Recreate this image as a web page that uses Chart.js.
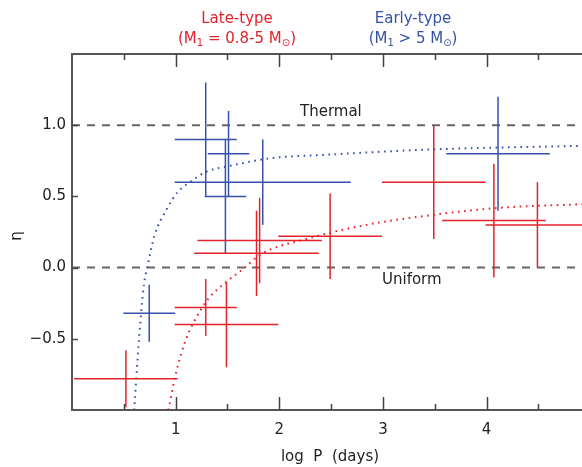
<!DOCTYPE html>
<html>
<head>
<meta charset="utf-8">
<script src="https://cdn.jsdelivr.net/npm/chart.js@4.4.1/dist/chart.umd.min.js"></script>
<style>
  html, body { margin: 0; padding: 0; background: #fff; }
  #wrap { width: 582px; height: 467px; }
</style>
</head>
<body>
<div id="wrap"><canvas id="chart" width="582" height="467"></canvas></div>
<script>
// --- data ---
// late-type (red): log P, eta, x error, eta error
const lateLogP = [0.52, 1.29, 1.49, 1.78, 1.81, 2.49, 3.49, 4.07, 4.49];
const lateEta  = [-0.78, -0.28, -0.40, 0.10, 0.19, 0.22, 0.60, 0.33, 0.30];
const lateXErr = [0.50, 0.30, 0.50, 0.60, 0.60, 0.50, 0.50, 0.50, 0.50];
const lateYErr = [0.20, 0.20, 0.30, 0.30, 0.30, 0.30, 0.40, 0.40, 0.30];

// early-type (blue)
const earlyLogP = [0.745, 1.29, 1.51, 1.48, 1.84, 4.11];
const earlyEta  = [-0.32, 0.90, 0.80, 0.50, 0.60, 0.80];
const earlyXErr = [0.25, 0.30, 0.20, 0.20, 0.85, 0.50];
const earlyYErr = [0.20, 0.40, 0.30, 0.40, 0.30, 0.40];

// dotted trend curves
const earlyCurveX = [0.60, 0.646, 0.694, 0.726, 0.794, 0.913, 1.019, 1.138, 1.299, 1.492, 1.941, 2.39, 3.48, 4.92];
const earlyCurveY = [-1.0, -0.505, -0.12, 0.0, 0.22, 0.41, 0.53, 0.60, 0.675, 0.71, 0.77, 0.79, 0.83, 0.855];
const lateCurveX = [0.93, 1.003, 1.099, 1.17, 1.314, 1.49, 1.668, 1.813, 2.28, 2.84, 3.48, 4.13, 4.92];
const lateCurveY = [-1.0, -0.74, -0.505, -0.39, -0.22, -0.10, 0.0, 0.09, 0.205, 0.30, 0.37, 0.42, 0.445];

// reference levels
const refLevels = [1.0, 0.0];
const refLabels = ['Thermal', 'Uniform'];

// axes
const xMin = 0, xMax = 4.92, yMin = -1.0, yMax = 1.5;
const xMajor = [1, 2, 3, 4];
const xMinor = [0.5, 1.5, 2.5, 3.5, 4.5];
const yMajor = [-0.5, 0.0, 0.5, 1.0];
const yLabels = ['\u22120.5', '0.0', '0.5', '1.0'];

const RED = '#e3222a';
const BLUE = '#3652a8';
const GREY = '#666666';
const FONT = '"DejaVu Sans", sans-serif';

function errorBarSets(xs, ys, xe, ye, color) {
    const sets = [];
    xs.forEach((x, i) => {
        const y = ys[i];
        sets.push({
            data: [{ x: x - xe[i], y }, { x: x + xe[i], y }],
            borderColor: color, borderWidth: 1.5, pointRadius: 0, order: 1,
        });
        sets.push({
            data: [{ x, y: y - ye[i] }, { x, y: y + ye[i] }],
            borderColor: color, borderWidth: 1.5, pointRadius: 0, order: 1,
        });
    });
    return sets;
}

function curveSet(xs, ys, color) {
    return {
        data: xs.map((x, i) => ({ x, y: ys[i] })),
        borderColor: color, borderWidth: 2, pointRadius: 0,
        borderDash: [1.6, 4.6], cubicInterpolationMode: 'monotone', order: 2,
    };
}

const datasets = [
    ...errorBarSets(lateLogP, lateEta, lateXErr, lateYErr, RED),
    ...errorBarSets(earlyLogP, earlyEta, earlyXErr, earlyYErr, BLUE),
    curveSet(earlyCurveX, earlyCurveY, BLUE),
    curveSet(lateCurveX, lateCurveY, RED),
    ...refLevels.map(v => ({
        data: [{ x: xMin, y: v }, { x: xMax, y: v }],
        borderColor: GREY, borderWidth: 2, pointRadius: 0,
        borderDash: [8, 7], order: 3,
    })),
];

function drawRich(ctx, parts, cx, cy, color) {
    const widths = parts.map(p => {
        ctx.font = (p.sub ? 10 : 15) + 'px ' + FONT;
        return ctx.measureText(p.t).width;
    });
    let x = cx - widths.reduce((a, b) => a + b, 0) / 2;
    ctx.fillStyle = color;
    ctx.textAlign = 'left';
    ctx.textBaseline = 'middle';
    parts.forEach((p, i) => {
        ctx.font = (p.sub ? 10 : 15) + 'px ' + FONT;
        ctx.fillText(p.t, x, cy + (p.sub ? 4 : 0));
        x += widths[i];
    });
}

const framePlugin = {
    id: 'frame',
    afterDraw(chart) {
        const { ctx, chartArea: a, scales: { x, y } } = chart;
        ctx.save();

        // axis lines
        ctx.strokeStyle = '#555';
        ctx.lineWidth = 2;
        ctx.beginPath();
        ctx.moveTo(a.right, a.top); ctx.lineTo(a.left, a.top);
        ctx.lineTo(a.left, a.bottom); ctx.lineTo(a.right, a.bottom);
        ctx.stroke();

        // x ticks, bottom and top
        ctx.lineWidth = 1.5;
        ctx.strokeStyle = '#444';
        const tick = (v, len) => {
            const px = Math.round(x.getPixelForValue(v)) + 0.5;
            ctx.beginPath();
            ctx.moveTo(px, a.bottom); ctx.lineTo(px, a.bottom - len);
            ctx.moveTo(px, a.top); ctx.lineTo(px, a.top + len);
            ctx.stroke();
        };
        xMajor.forEach(v => tick(v, 13));
        xMinor.forEach(v => tick(v, 6));

        // y ticks
        yMajor.forEach(v => {
            const py = Math.round(y.getPixelForValue(v)) + 0.5;
            ctx.beginPath();
            ctx.moveTo(a.left, py); ctx.lineTo(a.left + 6, py);
            ctx.stroke();
        });

        // tick labels
        ctx.fillStyle = '#222';
        ctx.font = '15px ' + FONT;
        ctx.textAlign = 'center';
        ctx.textBaseline = 'middle';
        xMajor.forEach(v => ctx.fillText(String(v), x.getPixelForValue(v), 430));
        ctx.textAlign = 'right';
        yMajor.forEach((v, i) => ctx.fillText(yLabels[i], a.left - 6, y.getPixelForValue(v)));

        // axis titles
        ctx.textAlign = 'center';
        ctx.fillText('log  P  (days)', 330, 457);
        ctx.save();
        ctx.translate(17, 236);
        ctx.rotate(-Math.PI / 2);
        ctx.fillText('\u03b7', 0, 0);
        ctx.restore();

        // reference labels
        ctx.textAlign = 'left';
        ctx.fillText(refLabels[0], 300, y.getPixelForValue(refLevels[0]) - 13);
        ctx.fillText(refLabels[1], 382, y.getPixelForValue(refLevels[1]) + 13);

        // legend-type titles
        ctx.fillStyle = RED;
        ctx.textAlign = 'center';
        ctx.fillText('Late-type', 237, 19);
        drawRich(ctx, [{ t: '(M' }, { t: '1', sub: true }, { t: ' = 0.8-5 M' }, { t: '\u2299', sub: true }, { t: ')' }], 237, 39, RED);
        ctx.fillStyle = BLUE;
        ctx.font = '15px ' + FONT;
        ctx.textAlign = 'center';
        ctx.fillText('Early-type', 413, 19);
        drawRich(ctx, [{ t: '(M' }, { t: '1', sub: true }, { t: ' > 5 M' }, { t: '\u2299', sub: true }, { t: ')' }], 413, 39, BLUE);

        ctx.restore();
    },
};

new Chart(document.getElementById('chart'), {
    type: 'line',
    data: { datasets },
    options: {
        responsive: false,
        animation: false,
        layout: { padding: { left: 72, right: 0, top: 54, bottom: 57 } },
        plugins: { legend: { display: false }, tooltip: { enabled: false } },
        scales: {
            x: { type: 'linear', min: xMin, max: xMax, display: false },
            y: { type: 'linear', min: yMin, max: yMax, display: false },
        },
    },
    plugins: [framePlugin],
});
</script>
</body>
</html>
